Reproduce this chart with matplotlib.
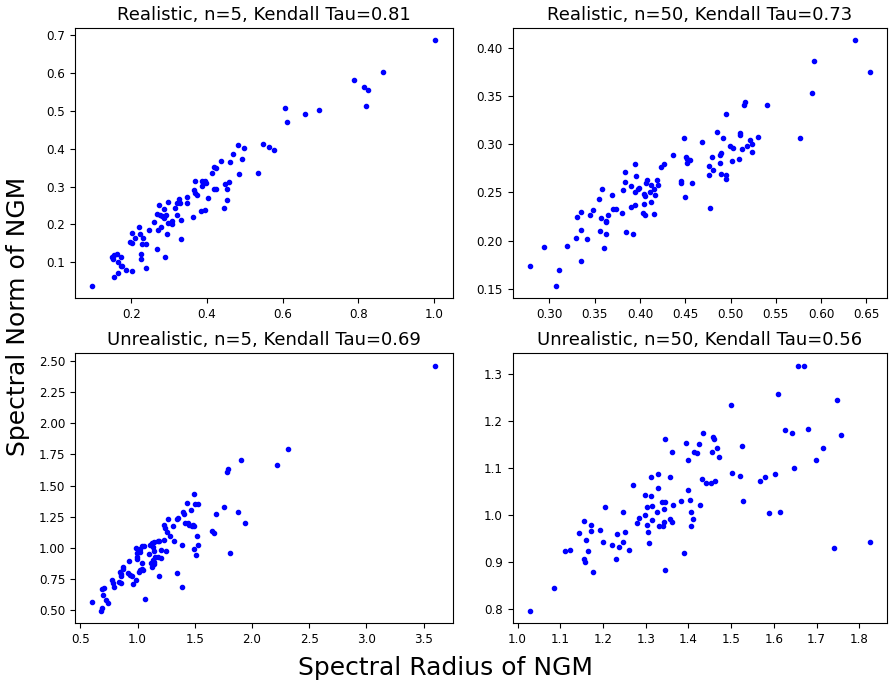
#!/usr/bin/env python

import matplotlib
matplotlib.use("Agg")
import matplotlib.pyplot as plt

# Realistic, n=5
real5_x = [1.003, 0.864, 0.788, 0.814, 0.826, 0.819, 0.607, 0.612, 0.660, 0.695,
           0.547, 0.563, 0.576, 0.482, 0.497, 0.468, 0.492, 0.437, 0.460, 0.418,
           0.424, 0.413, 0.485, 0.536, 0.369, 0.388, 0.394, 0.390, 0.397, 0.388,
           0.457, 0.448, 0.418, 0.424, 0.453, 0.367, 0.368, 0.375, 0.404, 0.453,
           0.446, 0.346, 0.346, 0.327, 0.320, 0.330, 0.298, 0.273, 0.287, 0.316,
           0.268, 0.275, 0.282, 0.291, 0.287, 0.321, 0.362, 0.331, 0.308, 0.296,
           0.307, 0.278, 0.270, 0.259, 0.246, 0.221, 0.223, 0.201, 0.232, 0.210,
           0.196, 0.203, 0.228, 0.240, 0.294, 0.384, 0.394, 0.331, 0.267, 0.289,
           0.227, 0.227, 0.240, 0.203, 0.185, 0.176, 0.173, 0.163, 0.154, 0.151,
           0.165, 0.173, 0.164, 0.154, 0.097, 0.149]
real5_y = [0.687, 0.603, 0.583, 0.564, 0.555, 0.513, 0.508, 0.470, 0.492, 0.504,
           0.412, 0.406, 0.397, 0.409, 0.402, 0.387, 0.374, 0.367, 0.366, 0.352,
           0.349, 0.336, 0.334, 0.336, 0.316, 0.316, 0.315, 0.309, 0.309, 0.302,
           0.312, 0.308, 0.294, 0.294, 0.294, 0.291, 0.284, 0.279, 0.270, 0.265,
           0.243, 0.272, 0.256, 0.268, 0.257, 0.257, 0.260, 0.251, 0.241, 0.243,
           0.229, 0.226, 0.223, 0.225, 0.218, 0.225, 0.221, 0.212, 0.208, 0.203,
           0.200, 0.194, 0.185, 0.206, 0.185, 0.194, 0.176, 0.178, 0.165, 0.165,
           0.155, 0.152, 0.149, 0.149, 0.176, 0.236, 0.237, 0.162, 0.134, 0.115,
           0.122, 0.108, 0.086, 0.077, 0.079, 0.090, 0.115, 0.122, 0.119, 0.108,
           0.101, 0.091, 0.073, 0.062, 0.038, 0.115]

# Realistic, n=50
real50_x = [0.638, 0.654, 0.592, 0.590, 0.577, 0.540, 0.516, 0.515, 0.495, 0.530,
            0.511, 0.510, 0.521, 0.524, 0.518, 0.513, 0.524, 0.509, 0.502, 0.499,
            0.503, 0.492, 0.485, 0.489, 0.488, 0.479, 0.488, 0.481, 0.476, 0.489,
            0.476, 0.495, 0.495, 0.469, 0.449, 0.451, 0.452, 0.455, 0.452, 0.436,
            0.426, 0.423, 0.457, 0.445, 0.445, 0.450, 0.477, 0.419, 0.420, 0.416,
            0.417, 0.408, 0.407, 0.412, 0.411, 0.404, 0.405, 0.404, 0.403, 0.405,
            0.415, 0.412, 0.395, 0.396, 0.399, 0.398, 0.395, 0.395, 0.390, 0.390,
            0.383, 0.383, 0.381, 0.380, 0.384, 0.392, 0.369, 0.370, 0.374, 0.365,
            0.358, 0.355, 0.357, 0.362, 0.363, 0.356, 0.362, 0.360, 0.348, 0.345,
            0.335, 0.330, 0.335, 0.329, 0.341, 0.335, 0.319, 0.294, 0.311, 0.278,
            0.307]
real50_y = [0.408, 0.375, 0.386, 0.353, 0.307, 0.341, 0.344, 0.341, 0.331, 0.308,
            0.312, 0.310, 0.304, 0.300, 0.298, 0.295, 0.292, 0.285, 0.283, 0.298,
            0.296, 0.306, 0.313, 0.291, 0.289, 0.287, 0.281, 0.273, 0.277, 0.269,
            0.268, 0.268, 0.264, 0.302, 0.307, 0.287, 0.285, 0.284, 0.281, 0.289,
            0.279, 0.276, 0.260, 0.262, 0.260, 0.245, 0.234, 0.263, 0.258, 0.254,
            0.247, 0.263, 0.260, 0.258, 0.250, 0.248, 0.246, 0.238, 0.229, 0.226,
            0.228, 0.240, 0.280, 0.267, 0.255, 0.253, 0.250, 0.237, 0.257, 0.235,
            0.271, 0.261, 0.252, 0.229, 0.209, 0.207, 0.247, 0.233, 0.233, 0.227,
            0.253, 0.243, 0.223, 0.220, 0.219, 0.210, 0.207, 0.192, 0.232, 0.226,
            0.230, 0.224, 0.211, 0.203, 0.202, 0.179, 0.194, 0.193, 0.169, 0.174,
            0.153]

# Unrealistic, n=5
unreal5_x = [3.602, 2.317, 2.221, 1.906, 1.790, 1.784, 1.877, 1.935, 1.804, 1.752,
             1.685, 1.653, 1.667, 1.495, 1.431, 1.466, 1.501, 1.530, 1.396, 1.402,
             1.347, 1.358, 1.268, 1.306, 1.233, 1.242, 1.259, 1.283, 1.417, 1.437,
             1.452, 1.484, 1.495, 1.475, 1.519, 1.528, 1.490, 1.510, 1.390, 1.321,
             1.233, 1.178, 1.189, 1.143, 1.125, 1.105, 1.041, 1.058, 1.020, 0.988,
             1.026, 0.994, 0.997, 0.997, 1.035, 1.134, 1.102, 1.140, 1.207, 1.245,
             1.157, 1.181, 1.201, 1.131, 1.119, 1.146, 1.140, 1.125, 1.041, 1.026,
             1.009, 1.044, 0.927, 0.916, 0.953, 0.930, 0.869, 0.869, 0.848, 0.857,
             0.857, 0.991, 0.962, 0.837, 0.854, 0.779, 0.790, 0.793, 1.189, 1.344,
             1.388, 1.067, 0.703, 0.691, 0.700, 0.723, 0.746, 0.604, 0.688, 0.677]
unreal5_y = [2.462, 1.794, 1.663, 1.706, 1.636, 1.607, 1.290, 1.197, 0.963, 1.330,
             1.272, 1.138, 1.117, 1.431, 1.359, 1.306, 1.352, 1.352, 1.288, 1.272,
             1.232, 1.237, 1.232, 1.176, 1.184, 1.162, 1.130, 1.096, 1.197, 1.197,
             1.181, 1.184, 1.178, 1.173, 1.096, 1.024, 0.989, 0.944, 1.024, 1.056,
             1.064, 1.053, 1.056, 1.051, 1.037, 1.021, 1.019, 1.019, 0.992, 0.997,
             0.971, 0.960, 0.931, 0.912, 0.883, 1.005, 0.952, 0.973, 0.981, 0.976,
             0.931, 0.925, 0.923, 0.904, 0.883, 0.888, 0.875, 0.848, 0.830, 0.827,
             0.808, 0.822, 0.896, 0.800, 0.776, 0.782, 0.851, 0.832, 0.811, 0.792,
             0.776, 0.744, 0.710, 0.728, 0.715, 0.744, 0.718, 0.683, 0.774, 0.803,
             0.683, 0.590, 0.678, 0.672, 0.622, 0.585, 0.555, 0.569, 0.518, 0.494]

# Unrealistic, n=50
unreal50_x = [1.656, 1.670, 1.609, 1.747, 1.500, 1.625, 1.642, 1.680, 1.757, 1.525,
              1.714, 1.698, 1.648, 1.502, 1.520, 1.603, 1.580, 1.568, 1.527, 1.589,
              1.615, 1.741, 1.825, 1.434, 1.457, 1.460, 1.425, 1.395, 1.412, 1.419,
              1.456, 1.467, 1.471, 1.399, 1.344, 1.362, 1.432, 1.440, 1.453, 1.463,
              1.329, 1.312, 1.357, 1.328, 1.399, 1.270, 1.298, 1.312, 1.404, 1.383,
              1.339, 1.345, 1.364, 1.426, 1.302, 1.314, 1.342, 1.327, 1.407, 1.205,
              1.247, 1.298, 1.285, 1.314, 1.356, 1.361, 1.411, 1.279, 1.302, 1.342,
              1.331, 1.340, 1.407, 1.305, 1.155, 1.171, 1.143, 1.171, 1.193, 1.233,
              1.252, 1.160, 1.201, 1.247, 1.308, 1.222, 1.238, 1.261, 1.112, 1.122,
              1.164, 1.156, 1.159, 1.230, 1.390, 1.176, 1.346, 1.086, 1.028]
unreal50_y = [1.317, 1.317, 1.256, 1.245, 1.233, 1.180, 1.174, 1.182, 1.169, 1.146,
              1.142, 1.117, 1.100, 1.090, 1.083, 1.087, 1.080, 1.073, 1.030, 1.004,
              1.007, 0.929, 0.943, 1.174, 1.165, 1.161, 1.151, 1.153, 1.133, 1.131,
              1.134, 1.142, 1.122, 1.116, 1.162, 1.133, 1.076, 1.067, 1.067, 1.073,
              1.087, 1.080, 1.080, 1.057, 1.053, 1.064, 1.042, 1.040, 1.032, 1.030,
              1.027, 1.027, 1.021, 1.021, 1.016, 1.018, 1.012, 1.007, 1.006, 1.016,
              1.006, 0.999, 0.994, 0.989, 0.991, 0.986, 0.992, 0.982, 0.979, 0.984,
              0.977, 0.977, 0.977, 0.963, 0.988, 0.979, 0.961, 0.965, 0.968, 0.960,
              0.963, 0.947, 0.943, 0.943, 0.940, 0.936, 0.932, 0.925, 0.924, 0.926,
              0.924, 0.907, 0.901, 0.907, 0.920, 0.878, 0.883, 0.844, 0.796]

titles = ["Realistic, n=5, Kendall Tau=0.81", "Realistic, n=50, Kendall Tau=0.73",
          "Unrealistic, n=5, Kendall Tau=0.69", "Unrealistic, n=50, Kendall Tau=0.56"]
xs = [real5_x, real50_x, unreal5_x, unreal50_x]
ys = [real5_y, real50_y, unreal5_y, unreal50_y]

fig = plt.figure(figsize=(8.91, 6.84), dpi=100)
boxes = [[0.0842, 0.5643, 0.4237, 0.3947], [0.5752, 0.5643, 0.4203, 0.3947],
         [0.0842, 0.0887, 0.4237, 0.3947], [0.5752, 0.0887, 0.4203, 0.3947]]

for box, x, y, title in zip(boxes, xs, ys, titles):
    ax = fig.add_axes(box)
    ax.plot(x, y, 'b.', markersize=6)
    ax.set_title(title, fontsize=13)
    ax.tick_params(labelsize=8.6)

fig.text(0.5, 0.023, "Spectral Radius of NGM", fontsize=18, ha='center', va='center')
fig.text(0.02, 0.538, "Spectral Norm of NGM", fontsize=18, ha='center', va='center',
         rotation=90)

fig.savefig("out.png", dpi=100)
